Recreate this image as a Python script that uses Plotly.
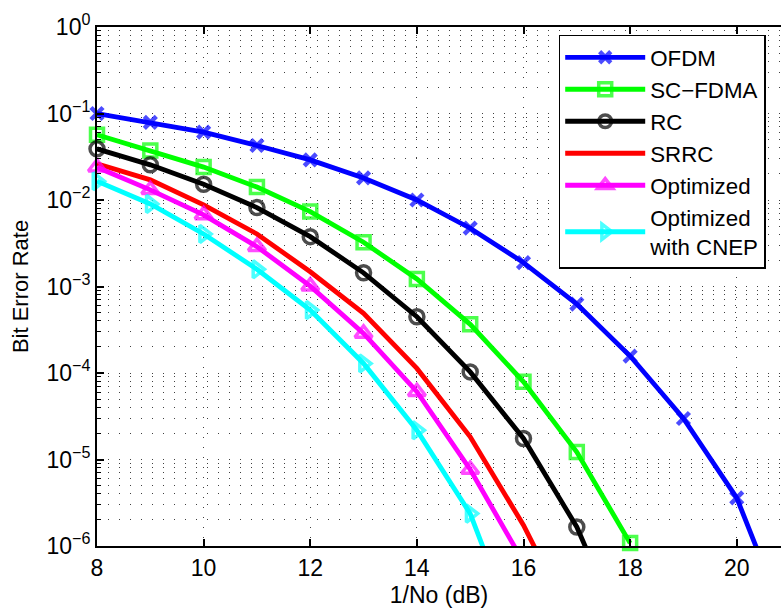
import numpy as np
import plotly.graph_objects as go

# Eb/No axis (dB) for each curve
snr_ofdm = [8, 9, 10, 11, 12, 13, 14, 15, 16, 17, 18, 19, 20, 21]
snr_scfdma = [8, 9, 10, 11, 12, 13, 14, 15, 16, 17, 18]
snr_rc = [8, 9, 10, 11, 12, 13, 14, 15, 16, 17, 18]
snr_srrc = [8, 9, 10, 11, 12, 13, 14, 15, 16, 17]
snr_opt = [8, 9, 10, 11, 12, 13, 14, 15, 16]
snr_cnep = [8, 9, 10, 11, 12, 13, 14, 15, 16]

# Bit error rates
ber_ofdm = [0.100, 0.079, 0.061, 0.0427, 0.0291, 0.018, 0.0100, 4.72e-3,
            1.89e-3, 6.27e-4, 1.57e-4, 2.98e-5, 3.6e-6, 1.0e-7]
ber_scfdma = [0.0567, 0.0373, 0.0240, 0.0141, 7.34e-3, 3.25e-3, 1.22e-3,
              3.65e-4, 7.9e-5, 1.22e-5, 1.08e-6]
ber_rc = [0.039, 0.0255, 0.0152, 8.17e-3, 3.77e-3, 1.44e-3, 4.47e-4,
          1.03e-4, 1.75e-5, 1.66e-6, 6.3e-8]
ber_srrc = [0.0262, 0.0171, 8.77e-3, 4.05e-3, 1.48e-3, 4.9e-4, 1.13e-4,
            1.83e-5, 1.74e-6, 1.05e-7]
ber_opt = [0.0239, 0.0131, 6.73e-3, 2.89e-3, 1.01e-3, 2.87e-4, 6.07e-5,
           7.66e-6, 6.5e-7]
ber_cnep = [0.0165, 9.01e-3, 4.05e-3, 1.58e-3, 5.35e-4, 1.29e-4, 2.18e-5,
            2.37e-6, 5.8e-8]

names = ["OFDM", "SC\u2212FDMA", "RC", "SRRC", "Optimized", "Optimized<br>with CNEP"]

x_ticks = [8, 10, 12, 14, 16, 18, 20]
y_decades = [1e-6, 1e-5, 1e-4, 1e-3, 1e-2, 1e-1, 1e0]
y_ticktext = ["10<sup>\u2212%d</sup>" % k if k else "10<sup>0</sup>"
              for k in [6, 5, 4, 3, 2, 1, 0]]
y_minor = [m * 10.0 ** e for e in range(-6, 0) for m in range(2, 10)]

Y_MIN = 1e-6
X_MAX = 20.83

series = [
    (snr_ofdm, ber_ofdm, "#0000ff", "x-thin", 12, 4.5),
    (snr_scfdma, ber_scfdma, "#00ff00", "square-open", 13, 3.5),
    (snr_rc, ber_rc, "#000000", "circle-open", 14, 3.5),
    (snr_srrc, ber_srrc, "#ff0000", None, 0, 0),
    (snr_opt, ber_opt, "#ff00ff", "triangle-up-open", 15, 3.5),
    (snr_cnep, ber_cnep, "#00ffff", "triangle-right-open", 15, 3.5),
]

fig = go.Figure()
for (xs, ys, color, symbol, msize, mlw), name in zip(series, names):
    ys_arr = np.asarray(ys)
    xs_arr = np.asarray(xs)
    visible = (ys_arr >= Y_MIN * 0.999) & (xs_arr <= X_MAX)
    if symbol is None:
        fig.add_trace(go.Scatter(
            x=xs, y=ys, name=name, mode="lines",
            line=dict(color=color, width=4.8),
        ))
    else:
        sizes = np.where(visible, msize, 0).tolist()
        fig.add_trace(go.Scatter(
            x=xs, y=ys, name=name, mode="lines+markers",
            line=dict(color=color, width=4.8),
            marker=dict(symbol=symbol, size=sizes, color=color,
                        line=dict(color=color, width=mlw)),
            cliponaxis=False,
        ))

grid_color = "rgba(0,0,0,0.75)"

fig.update_layout(
    width=781, height=608,
    margin=dict(l=97, r=0, t=27, b=62),
    paper_bgcolor="white", plot_bgcolor="white",
    font=dict(family="Liberation Sans, Arial, Helvetica, sans-serif",
              size=23, color="black"),
    legend=dict(
        x=0.675, y=0.985, xanchor="left", yanchor="top",
        bgcolor="white", bordercolor="black", borderwidth=1.5,
        font=dict(size=22.3), tracegroupgap=0, itemwidth=80,
    ),
    xaxis=dict(
        range=[8, X_MAX], tickmode="array", tickvals=x_ticks,
        ticks="inside", ticklen=7, tickwidth=1.5, tickcolor="black",
        showline=True, linecolor="black", linewidth=2, mirror="ticks",
        showgrid=True, gridcolor=grid_color, gridwidth=1, griddash="1px,9px",
        zeroline=False,
        title=dict(text="1/No (dB)", standoff=10, font=dict(size=23)),
    ),
    yaxis=dict(
        type="log", range=[-6, 0], tickmode="array",
        tickvals=y_decades, ticktext=y_ticktext,
        ticks="inside", ticklen=7, tickwidth=1.5, tickcolor="black",
        showline=True, linecolor="black", linewidth=2, mirror=False,
        showgrid=True, gridcolor=grid_color, gridwidth=1, griddash="1px,10px",
        minor=dict(tickmode="array", tickvals=y_minor, ticks="inside",
                   ticklen=4, tickwidth=1, tickcolor="black",
                   showgrid=True, gridcolor=grid_color, gridwidth=1,
                   griddash="1px,10px"),
        zeroline=False,
        title=dict(text="Bit Error Rate", standoff=12, font=dict(size=22)),
    ),
)

fig.write_html("out.html")
